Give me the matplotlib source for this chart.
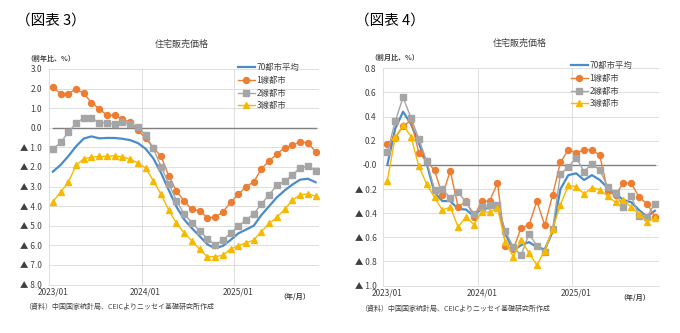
import numpy as np
import matplotlib
matplotlib.use("Agg")
import matplotlib.pyplot as plt

plt.rcParams["font.family"] = ["Noto Sans CJK JP", "DejaVu Sans"]

# Monthly data, 2023/01 - 2025/11
months = [f"{y}/{m:02d}" for y in (2023, 2024, 2025) for m in range(1, 13)][:35]
tick_labels = ["2023/01", "2024/01", "2025/01"]
series_names = ["70都市平均", "1線都市", "2線都市", "3線都市"]

# (図表3) year-on-year, %
yoy_avg70 = [-2.24, -1.9, -1.45, -0.95, -0.55, -0.44, -0.54, -0.52, -0.52, -0.56, -0.63, -0.78,
             -1.07, -1.56, -2.3, -3.18, -4.03, -4.68, -5.13, -5.53, -5.95, -6.15, -6.03, -5.73,
             -5.39, -5.2, -5.0, -4.45, -4.0, -3.55, -3.2, -2.9, -2.65, -2.6, -2.78]
yoy_tier1 = [2.06, 1.74, 1.74, 1.98, 1.75, 1.28, 0.97, 0.64, 0.64, 0.44, 0.28, -0.12,
             -0.54, -1.02, -1.45, -2.45, -3.23, -3.74, -4.17, -4.23, -4.59, -4.57, -4.3, -3.81,
             -3.4, -3.0, -2.77, -2.08, -1.7, -1.34, -1.02, -0.9, -0.71, -0.76, -1.22]
yoy_tier2 = [-1.1, -0.75, -0.24, 0.24, 0.5, 0.5, 0.26, 0.26, 0.17, 0.29, 0.17, 0.05,
             -0.37, -1.05, -1.98, -2.86, -3.72, -4.41, -4.85, -5.26, -5.67, -5.97, -5.74, -5.38,
             -5.02, -4.71, -4.39, -3.89, -3.42, -2.93, -2.73, -2.42, -2.04, -1.97, -2.19]
yoy_tier3 = [-3.78, -3.28, -2.79, -1.92, -1.58, -1.51, -1.46, -1.46, -1.43, -1.48, -1.6, -1.8,
             -2.05, -2.7, -3.4, -4.2, -4.88, -5.36, -5.78, -6.2, -6.58, -6.58, -6.51, -6.19,
             -6.02, -5.88, -5.73, -5.3, -4.88, -4.57, -4.16, -3.7, -3.42, -3.38, -3.48]

# (図表4) month-on-month, %
mom_avg70 = [0.0, 0.3, 0.44, 0.34, 0.18, 0.01, -0.23, -0.3, -0.3, -0.365, -0.37, -0.425,
             -0.36, -0.36, -0.34, -0.57, -0.71, -0.665, -0.64, -0.68, -0.70, -0.555, -0.2, -0.085,
             -0.07, -0.125, -0.085, -0.125, -0.19, -0.24, -0.29, -0.31, -0.375, -0.43, -0.38]
mom_tier1 = [0.175, 0.225, 0.32, 0.37, 0.10, 0.03, -0.045, -0.25, -0.05, -0.35, -0.30, -0.43,
             -0.30, -0.30, -0.15, -0.67, -0.70, -0.52, -0.50, -0.30, -0.50, -0.25, 0.02, 0.125,
             0.10, 0.125, 0.125, 0.08, -0.22, -0.25, -0.15, -0.15, -0.27, -0.32, -0.43]
mom_tier2 = [0.105, 0.36, 0.56, 0.39, 0.215, 0.03, -0.205, -0.2, -0.275, -0.225, -0.31, -0.405,
             -0.35, -0.33, -0.33, -0.55, -0.68, -0.75, -0.57, -0.67, -0.72, -0.535, -0.075, -0.02,
             0.06, -0.055, 0.01, -0.045, -0.18, -0.235, -0.345, -0.26, -0.425, -0.43, -0.32]
mom_tier3 = [-0.13, 0.23, 0.33, 0.235, -0.01, -0.16, -0.27, -0.375, -0.35, -0.515, -0.43, -0.495,
             -0.39, -0.39, -0.36, -0.64, -0.76, -0.62, -0.73, -0.83, -0.71, -0.53, -0.33, -0.17,
             -0.18, -0.24, -0.19, -0.205, -0.26, -0.31, -0.29, -0.35, -0.41, -0.47, -0.44]

COLORS = ["#4a8cc8", "#ed7d31", "#a5a5a5", "#f7b900"]
GRID = "#d9d9d9"
TXT = "#404040"


def fmt_tick(v):
    if v < -1e-9:
        return f"▲ {abs(v):.1f}"
    return f"{v:.1f}"


def draw_panel(ax, data, yticks, legend_xy):
    x = np.arange(len(months))
    ax.plot(x, np.zeros(len(x)), color="#7f7f7f", lw=1.0, zorder=2)  # zero line series

    h1, = ax.plot(x, data[0], color=COLORS[0], lw=1.6, zorder=3)
    h2, = ax.plot(x, data[1], color=COLORS[1], lw=1.0, marker="o", ms=4.3, zorder=4)
    h3, = ax.plot(x, data[2], color=COLORS[2], lw=1.0, marker="s", ms=4.3, zorder=5)
    h4, = ax.plot(x, data[3], color=COLORS[3], lw=1.0, marker="^", ms=4.3, zorder=6)

    ax.set_xlim(-0.5, len(x) - 0.5)
    ax.set_ylim(yticks[0], yticks[-1])
    ax.set_yticks(yticks)
    ax.set_yticklabels([fmt_tick(v) for v in yticks], fontsize=6, color=TXT)
    ax.set_xticks([0, 12, 24])
    ax.set_xticklabels(tick_labels, fontsize=6, color=TXT)
    ax.set_xticks([11.5, 23.5], minor=True)
    ax.tick_params(which="both", length=0)
    ax.tick_params(axis="y", pad=5)
    ax.tick_params(axis="x", pad=2)
    ax.grid(True, axis="y", color=GRID, lw=0.6)
    ax.grid(True, axis="x", which="minor", color=GRID, lw=0.6)
    for s in ("top", "right"):
        ax.spines[s].set_visible(False)
    for s in ("left", "bottom"):
        ax.spines[s].set_color(GRID)
        ax.spines[s].set_linewidth(0.6)

    fig = ax.figure
    fig.legend([h1, h2, h3, h4], series_names, loc="upper left",
               bbox_to_anchor=legend_xy, frameon=False, fontsize=6,
               handlelength=2.0, handletextpad=0.2, labelspacing=0.45,
               borderpad=0, borderaxespad=0, labelcolor=TXT)


fig = plt.figure(figsize=(6.8, 3.33), dpi=100)
W, H = 680, 333

ax1 = fig.add_axes([49 / W, 1 - 284.5 / H, 270.4 / W, 215.5 / H])
draw_panel(ax1, [yoy_avg70, yoy_tier1, yoy_tier2, yoy_tier3],
           np.arange(-8.0, 3.01, 1.0), (238 / W, 1 - 63 / H))

ax2 = fig.add_axes([383.4 / W, 1 - 285.6 / H, 275.4 / W, 217.3 / H])
draw_panel(ax2, [mom_avg70, mom_tier1, mom_tier2, mom_tier3],
           np.round(np.arange(-1.0, 0.81, 0.2), 1), (571 / W, 1 - 61 / H))

# Panel headings and notes
fig.text(16 / W, 1 - 21 / H, "（図表 3）", fontsize=10.5, va="center", ha="left")
fig.text(355 / W, 1 - 21 / H, "（図表 4）", fontsize=10.5, va="center", ha="left")
fig.text(182 / W, 1 - 44 / H, "住宅販売価格", fontsize=6.5, va="center", ha="center", color=TXT)
fig.text(520 / W, 1 - 43 / H, "住宅販売価格", fontsize=6.5, va="center", ha="center", color=TXT)
fig.text(26 / W, 1 - 58 / H, "（前年比、%）", fontsize=5, va="center", ha="left", color=TXT, weight="bold")
fig.text(370 / W, 1 - 57 / H, "（前月比、%）", fontsize=5, va="center", ha="left", color=TXT, weight="bold")
fig.text(310 / W, 1 - 296 / H, "（年/月）", fontsize=5, va="center", ha="right", color=TXT, weight="bold")
fig.text(650 / W, 1 - 297 / H, "（年/月）", fontsize=5, va="center", ha="right", color=TXT, weight="bold")
note = "（資料）中国国家統計局、CEICよりニッセイ基礎研究所作成"
fig.text(24 / W, 1 - 307 / H, note, fontsize=5, va="center", ha="left", color=TXT)
fig.text(360 / W, 1 - 309 / H, note, fontsize=5, va="center", ha="left", color=TXT)

fig.savefig("out.png", dpi=100)
